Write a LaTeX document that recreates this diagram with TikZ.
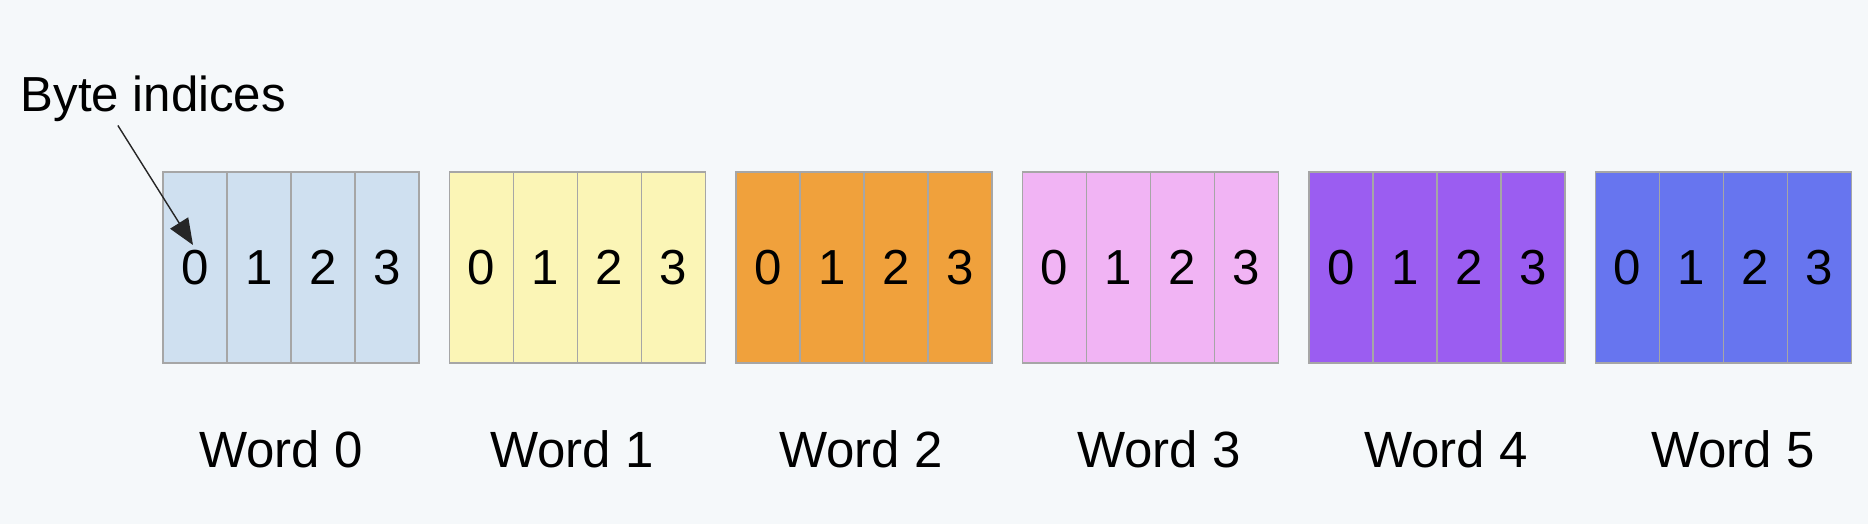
\documentclass[tikz,border=0pt]{standalone}
\usepackage{fontspec}
\setmainfont{Liberation Sans}
\usetikzlibrary{arrows.meta}

\definecolor{bgcol}{HTML}{F5F8FA}
\definecolor{wordA}{HTML}{CFE0F0}
\definecolor{wordB}{HTML}{FBF5B6}
\definecolor{wordC}{HTML}{F0A13C}
\definecolor{wordD}{HTML}{F1B4F4}
\definecolor{wordE}{HTML}{9B5DF1}
\definecolor{wordF}{HTML}{6775EF}

\begin{document}
\begin{tikzpicture}[font=\fontsize{14}{17}\selectfont]
    \fill[bgcol] (0,0) rectangle (18.68,5.24);
    \useasboundingbox (0,0) rectangle (18.68,5.24);

    \begin{scope}[every node/.style={rectangle,draw=black!35,thin,
        minimum width=0.64cm,minimum height=1.91cm,inner sep=0pt}]
      \foreach \w/\col in {0/wordA,1/wordB,2/wordC,3/wordD,4/wordE,5/wordF}
        \foreach \b in {0,...,3}
          \node[fill=\col] (\w-\b) at ({1.95+2.865*\w+0.64*\b},2.565) {\b};
    \end{scope}

    \begin{scope}[every node/.style={font=\fontsize{14.5}{17}\selectfont}]
      \foreach \w/\x in {0/2.81,1/5.72,2/8.61,3/11.59,4/14.46,5/17.33}
        \node (word\w) at (\x,0.75) {Word \w};
    \end{scope}

    \node[inner sep=1pt,anchor=base west] (bi) at (0.165,4.13) {Byte indices};
    \coordinate (tip) at ([shift={(-0.02,0.225)}]0-0.center);

    \draw[-{Triangle[length=7.4pt,width=6pt]},black!85,thin]
      ([xshift=-0.355cm]bi.south) -- (tip);
  \end{tikzpicture}
\end{document}
